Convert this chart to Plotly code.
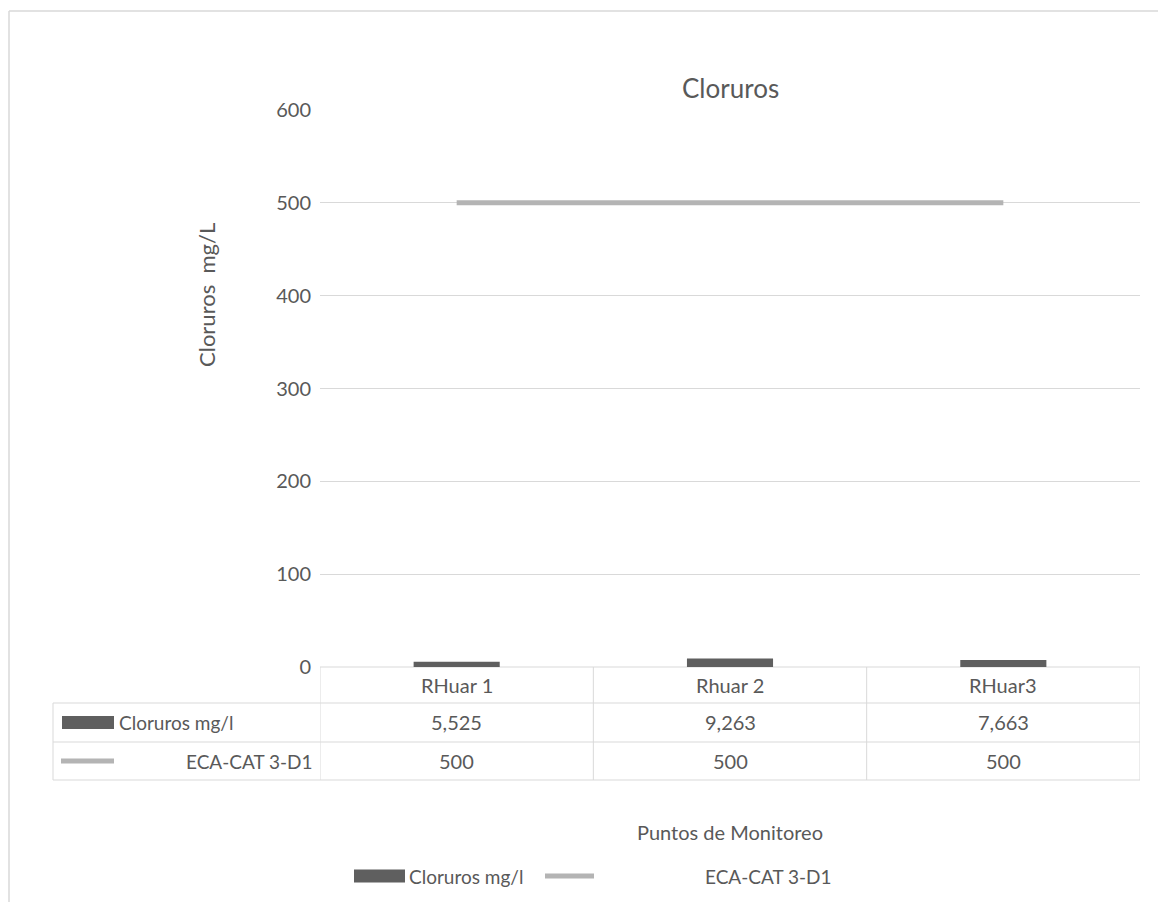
import plotly.graph_objects as go

# ---- data ----
categories = ["RHuar 1", "Rhuar 2", "RHuar3"]
cloruros = [5.525, 9.263, 7.663]
eca = [500, 500, 500]
series_names = ["Cloruros mg/l", "ECA-CAT 3-D1"]
y_ticks = [0, 100, 200, 300, 400, 500, 600]
chart_title = "Cloruros"
y_title = "Cloruros  mg/L"
x_title = "Puntos de Monitoreo"

# ---- styling ----
BAR_C = "#5f5f5f"
LINE_C = "#b4b4b4"
GRID_C = "#d9d9d9"
TEXT_C = "#595959"
FONT = "Lato"

W, H = 1158, 902
L, R, T, B = 320, 18, 110, 235
PW = W - L - R
PH = H - T - B


def xp(px):
    return (px - L) / PW


def yp(py):
    return (H - B - py) / PH


def fmt(v):
    if float(v).is_integer():
        return str(int(v))
    return f"{v:.3f}".replace(".", ",")


fig = go.Figure()
fig.add_trace(go.Bar(x=categories, y=cloruros, name=series_names[0],
                     marker=dict(color=BAR_C, line=dict(width=0)),
                     showlegend=False))
fig.add_trace(go.Scatter(x=categories, y=eca, name=series_names[1], mode="lines",
                         line=dict(color=LINE_C, width=5), showlegend=False))

shapes = []
ann = []


def hline(x0, x1, y, color=GRID_C, width=1):
    shapes.append(dict(type="line", xref="paper", yref="paper", x0=xp(x0), x1=xp(x1),
                       y0=yp(y), y1=yp(y), line=dict(color=color, width=width), layer="below"))


def vline(x, y0, y1, color=GRID_C, width=1):
    shapes.append(dict(type="line", xref="paper", yref="paper", x0=xp(x), x1=xp(x),
                       y0=yp(y0), y1=yp(y1), line=dict(color=color, width=width), layer="below"))


# outer chart frame
vline(9, 11, 905, width=1.5)
hline(9, 1162, 11, width=1.5)

# data table grid
hline(320, 1140, 667)
for yy in (703, 742, 780):
    hline(53, 1140, yy)
vline(53, 703, 780)
for i in range(len(categories) + 1):
    shapes.append(dict(type="line", xref="x", yref="paper", x0=i - 0.5, x1=i - 0.5,
                       y0=yp(667), y1=yp(780), line=dict(color=GRID_C, width=1), layer="below"))

# table contents
tf = dict(family=FONT, size=20, color=TEXT_C)
lf = dict(family=FONT, size=19, color=TEXT_C)
for i, c in enumerate(categories):
    ann.append(dict(x=c, xref="x", y=yp(685), yref="paper", text=c, showarrow=False,
                    font=tf, xanchor="center", yanchor="middle"))
    ann.append(dict(x=c, xref="x", y=yp(722), yref="paper", text=fmt(cloruros[i]),
                    showarrow=False, font=tf, xanchor="center", yanchor="middle"))
    ann.append(dict(x=c, xref="x", y=yp(761), yref="paper", text=fmt(eca[i]),
                    showarrow=False, font=tf, xanchor="center", yanchor="middle"))

# table row headers
shapes.append(dict(type="rect", xref="paper", yref="paper", x0=xp(62), x1=xp(114),
                   y0=yp(729), y1=yp(716), fillcolor=BAR_C, line=dict(width=0)))
ann.append(dict(x=xp(117), y=yp(722), xref="paper", yref="paper", text=series_names[0],
                showarrow=False, font=lf, xanchor="left", yanchor="middle"))
shapes.append(dict(type="line", xref="paper", yref="paper", x0=xp(61), x1=xp(114),
                   y0=yp(761), y1=yp(761), line=dict(color=LINE_C, width=5)))
ann.append(dict(x=xp(315), y=yp(761), xref="paper", yref="paper", text=series_names[1],
                showarrow=False, font=lf, xanchor="right", yanchor="middle"))

# legend
LY = 876
shapes.append(dict(type="rect", xref="paper", yref="paper", x0=xp(354), x1=xp(405),
                   y0=yp(LY + 6.5), y1=yp(LY - 6.5), fillcolor=BAR_C, line=dict(width=0)))
ann.append(dict(x=xp(407), y=yp(LY), xref="paper", yref="paper", text=series_names[0],
                showarrow=False, font=lf, xanchor="left", yanchor="middle"))
shapes.append(dict(type="line", xref="paper", yref="paper", x0=xp(545), x1=xp(594),
                   y0=yp(LY), y1=yp(LY), line=dict(color=LINE_C, width=5)))
ann.append(dict(x=xp(834), y=yp(LY), xref="paper", yref="paper", text=series_names[1],
                showarrow=False, font=lf, xanchor="right", yanchor="middle"))

# titles
ann.append(dict(x=0.5, y=yp(88), xref="paper", yref="paper", text=chart_title,
                showarrow=False, font=dict(family=FONT, size=26, color=TEXT_C),
                xanchor="center", yanchor="middle"))
ann.append(dict(x=xp(206), y=yp(295), xref="paper", yref="paper",
                text=y_title.replace("  ", " \u00a0"),
                showarrow=False, textangle=-90, font=dict(family=FONT, size=22, color=TEXT_C),
                xanchor="center", yanchor="middle"))
ann.append(dict(x=0.5, y=yp(832), xref="paper", yref="paper", text=x_title,
                showarrow=False, font=tf, xanchor="center", yanchor="middle"))

fig.update_layout(
    width=W, height=H,
    margin=dict(l=L, r=R, t=T, b=B, pad=0),
    paper_bgcolor="white", plot_bgcolor="white",
    bargap=0.685,
    shapes=shapes, annotations=ann,
    font=dict(family=FONT, color=TEXT_C),
    xaxis=dict(type="category", range=[-0.5, len(categories) - 0.5], showticklabels=False,
               showgrid=False, zeroline=False, showline=False, ticks=""),
    yaxis=dict(range=[0, 600], tickvals=y_ticks, showgrid=True, gridcolor=GRID_C, gridwidth=1,
               zeroline=False, showline=False, ticks="", ticklabelstandoff=8,
               tickfont=dict(family=FONT, size=20, color=TEXT_C)),
)

fig.write_html("out.html", config={"displayModeBar": False},
               post_script="document.body.style.margin='0';document.body.style.padding='0';")
